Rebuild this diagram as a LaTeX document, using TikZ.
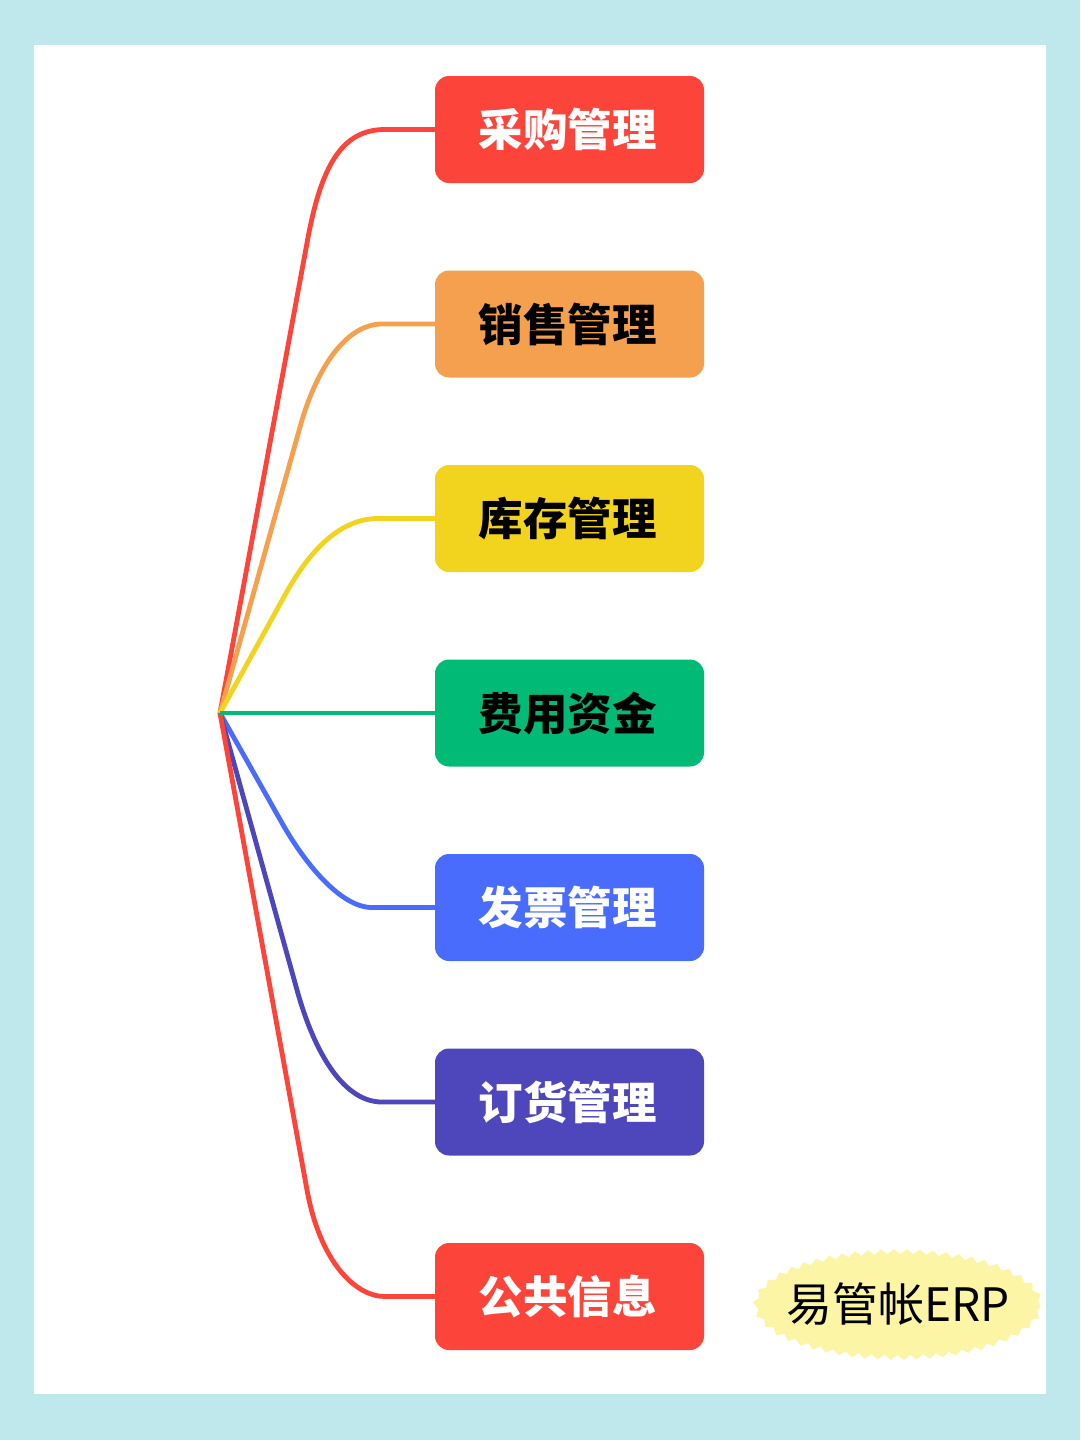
\documentclass[tikz,border=0pt]{standalone}
\usepackage{fontspec}
\newfontfamily\cjk{Noto Sans CJK SC}
\usetikzlibrary{shapes.geometric,decorations.pathmorphing}
\definecolor{bgblue}{HTML}{BFE8EC}
\definecolor{cred}{HTML}{FD443A}
\definecolor{corange}{HTML}{F5A04E}
\definecolor{cyellow}{HTML}{F2D41F}
\definecolor{cgreen}{HTML}{00BA76}
\definecolor{cblue}{HTML}{4A6CFD}
\definecolor{cpurple}{HTML}{4D47BB}
\definecolor{cbadge}{HTML}{FDF5A6}
\tikzset{
  boxnode/.style={rounded corners=14pt, minimum width=269pt, minimum height=107pt, inner sep=0pt,
    execute at end node={\hspace*{4pt}},
    font=\cjk\bfseries\fontsize{44.5}{44.5}\selectfont},
  link/.style={line width=4.8pt},
}
\begin{document}
\begin{tikzpicture}[x=1pt,y=-1pt]
\useasboundingbox (0,0) rectangle (1080,1440);
\fill[bgblue] (0,0) rectangle (1080,1440);
\fill[white] (34,45) rectangle (1046,1394);
\coordinate (hub) at (220,713);
\node[boxnode, fill=cred, text=white] (buy) at (569.5,129.5){采购管理};
\node[boxnode, fill=corange, text=black] (sale) at (569.5,324){销售管理};
\node[boxnode, fill=cyellow, text=black] (stock) at (569.5,518.5){库存管理};
\node[boxnode, fill=cgreen, text=black] (fund) at (569.5,713){费用资金};
\node[boxnode, fill=cblue, text=white] (bill) at (569.5,907.5){发票管理};
\node[boxnode, fill=cpurple, text=white] (order) at (569.5,1102){订货管理};
\node[boxnode, fill=cred, text=white] (info) at (569.5,1296.5){公共信息};
\draw[link, cred] (hub) -- (307,243) .. controls (321,165) and (342,129.5) .. (385,129.5) -- (buy.west);
\draw[link, corange] (hub) -- (300,427) .. controls (317.6,364) and (348,324) .. (382,324) -- (sale.west);
\draw[link, cyellow] (hub) -- (285,595) .. controls (304.5,559.6) and (335,518.5) .. (378,518.5) -- (stock.west);
\draw[link, cblue] (hub) -- (282,823) .. controls (303.7,861.5) and (340,907.5) .. (372,907.5) -- (bill.west);
\draw[link, cpurple] (hub) -- (297,990) .. controls (315.5,1056.5) and (345,1102) .. (382,1102) -- (order.west);
\draw[link, cred] (hub) -- (307,1190) .. controls (320,1261.5) and (355,1296.5) .. (385,1296.5) -- (info.west);
\draw[link, cgreen] (hub) -- (fund.west);
\node[ellipse, fill=cbadge, minimum width=283pt, minimum height=106pt, inner xsep=-11pt, inner ysep=0pt, decorate,
  decoration={zigzag, segment length=13pt, amplitude=2.5pt},
  font=\cjk\fontsize{46}{46}\selectfont] (badge) at (898,1304.5){易管帐ERP};
\end{tikzpicture}
\end{document}
